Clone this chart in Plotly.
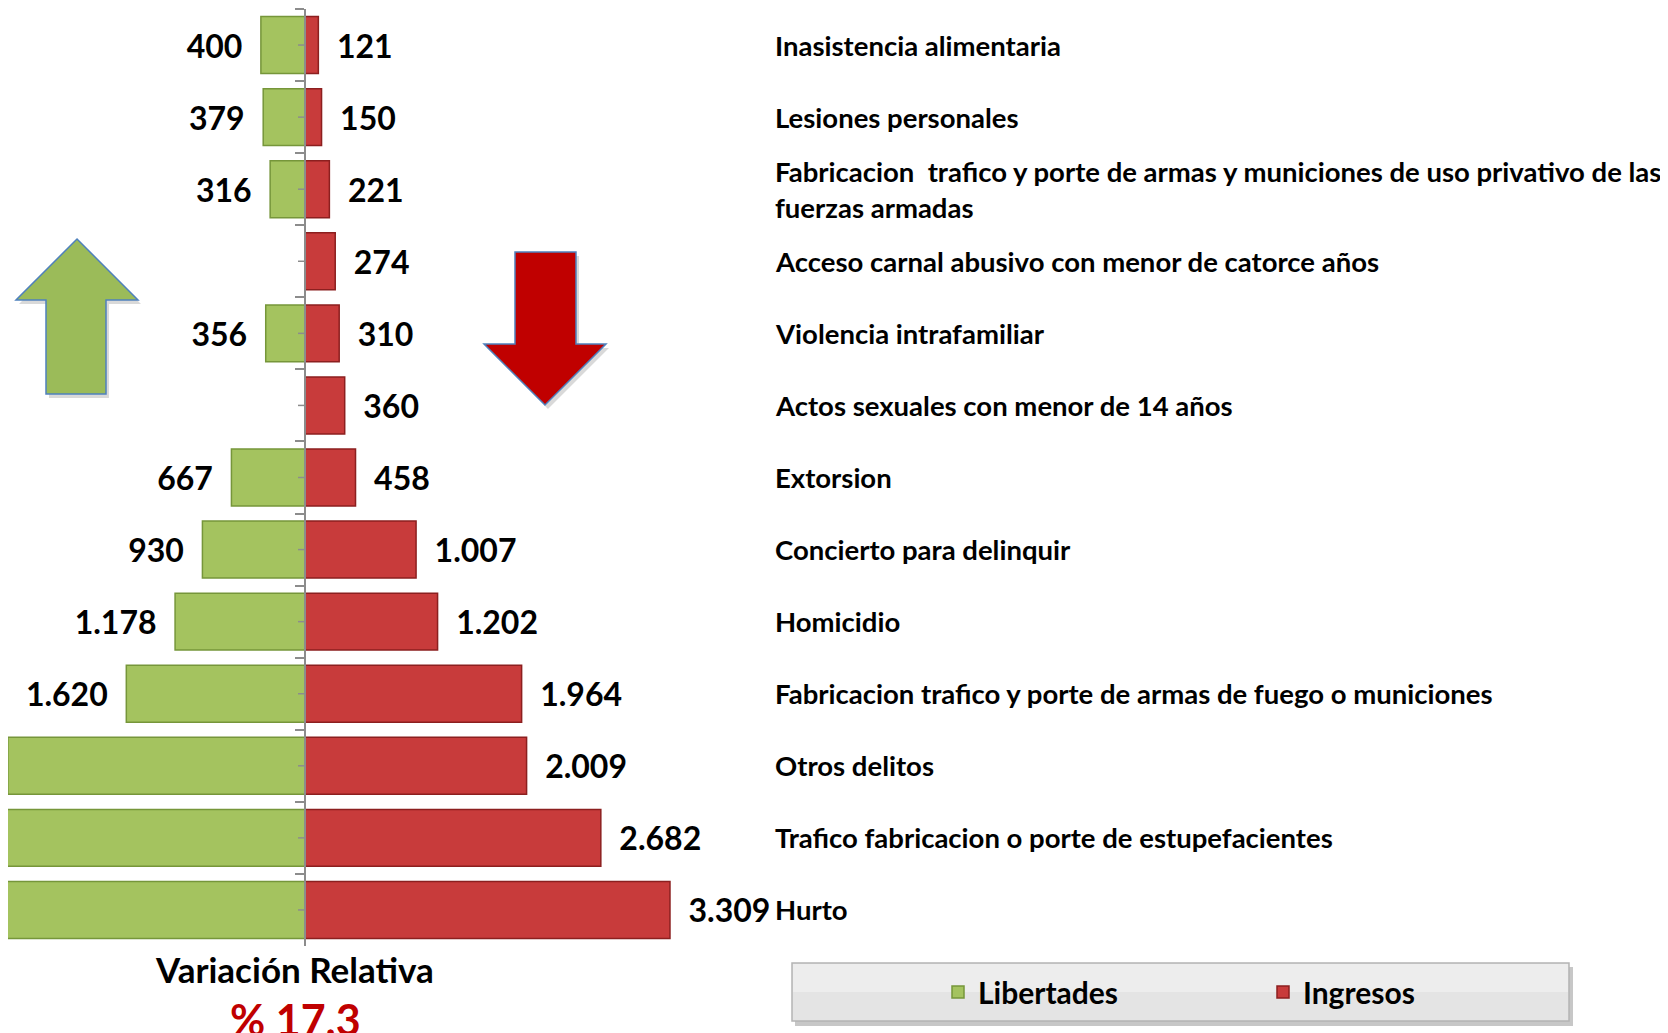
import plotly.graph_objects as go

# page is 1668x1033; the html body has an 8px margin, so the figure is 8px smaller
PAGE_W, PAGE_H = 1668, 1033
OFF = 8
W, H = PAGE_W - OFF, PAGE_H - OFF

categories = [
    "Inasistencia alimentaria",
    "Lesiones personales",
    "Fabricacion  trafico y porte de armas y municiones de uso privativo de las<br>fuerzas armadas",
    "Acceso carnal abusivo con menor de catorce años",
    "Violencia intrafamiliar",
    "Actos sexuales con menor de 14 años",
    "Extorsion",
    "Concierto para delinquir",
    "Homicidio",
    "Fabricacion trafico y porte de armas de fuego o municiones",
    "Otros delitos",
    "Trafico fabricacion o porte de estupefacientes",
    "Hurto",
]
libertades = [400, 379, 316, None, 356, None, 667, 930, 1178, 1620, 2694, 2950, 3250]
ingresos = [121, 150, 221, 274, 310, 360, 458, 1007, 1202, 1964, 2009, 2682, 3309]

variacion_titulo = "Variación Relativa"
variacion_valor = "% 17.3"

GREEN = "#A4C35F"
GREEN_EDGE = "#76963A"
RED = "#C83B3B"
RED_EDGE = "#8C1F1F"
FONT = "Lato"


def fmt(v):
    return f"{v:,}".replace(",", ".")


def px(x):
    # page pixel -> paper fraction
    return (x - OFF) / W


def py(y):
    return 1 - (y - OFF) / H


NB = "\u00a0\u00a0"

fig = go.Figure()
fig.add_trace(go.Bar(
    name="Libertades",
    y=categories,
    x=[-v if v is not None else None for v in libertades],
    orientation="h",
    marker=dict(color=GREEN, line=dict(color=GREEN_EDGE, width=1.5)),
    text=[fmt(v) + NB if v is not None else "" for v in libertades],
    textposition="outside",
    constraintext="none",
    cliponaxis=False,
    outsidetextfont=dict(family=FONT, size=32, color="black", weight="bold"),
    hoverinfo="skip",
))
fig.add_trace(go.Bar(
    name="Ingresos",
    y=categories,
    x=ingresos,
    orientation="h",
    marker=dict(color=RED, line=dict(color=RED_EDGE, width=1.5)),
    text=[NB + fmt(v) for v in ingresos],
    textposition="outside",
    constraintext="none",
    cliponaxis=False,
    outsidetextfont=dict(family=FONT, size=32, color="black", weight="bold"),
    hoverinfo="skip",
))

zero_page = 305
scale = 0.1103  # px per unit
plot_right_page = 770
x_left = -(zero_page - OFF) / scale
x_right = (plot_right_page - zero_page) / scale

shapes = []
for c in categories:
    shapes.append(dict(type="line", xref="x", yref="y", xsizemode="pixel", xanchor=0,
                       x0=-7, x1=0, y0=c, y1=c, line=dict(color="#8C8C8C", width=1.5)))


def path(points):
    return "M " + " L ".join(f"{px(x):.5f},{py(y):.5f}" for x, y in points) + " Z"


green_arrow = [(46, 394), (46, 300), (16, 300), (77, 239), (138, 300), (106, 300), (106, 394)]
red_arrow = [(515, 252), (576, 252), (576, 344), (606, 344), (545, 405), (484, 344), (515, 344)]
for pts, col in ((green_arrow, "#9BBB59"), (red_arrow, "#C00000")):
    shadow = [(x + 3, y + 4) for x, y in pts]
    shapes.append(dict(type="path", xref="paper", yref="paper", path=path(shadow),
                       fillcolor="rgba(0,0,0,0.15)", line=dict(width=0)))
    shapes.append(dict(type="path", xref="paper", yref="paper", path=path(pts),
                       fillcolor=col, line=dict(color="#4F81BD", width=1.5)))

# legend box
shapes.append(dict(type="rect", xref="paper", yref="paper",
                   x0=px(795), x1=px(1573), y0=py(1026), y1=py(967),
                   fillcolor="rgba(0,0,0,0.22)", line=dict(width=0)))
shapes.append(dict(type="rect", xref="paper", yref="paper",
                   x0=px(792), x1=px(1569), y0=py(1021), y1=py(963),
                   fillcolor="#E4E4E4", line=dict(color="#B4B4B4", width=1.5)))
shapes.append(dict(type="rect", xref="paper", yref="paper",
                   x0=px(793), x1=px(1568), y0=py(992), y1=py(964),
                   fillcolor="rgba(255,255,255,0.35)", line=dict(width=0)))

annotations = []
for c in categories:
    annotations.append(dict(x=px(773), xref="paper", y=c, yref="y", text=c,
                            xanchor="left", yanchor="middle", align="left", showarrow=False,
                            font=dict(family=FONT, size=27.5, color="black", weight="bold")))
annotations.append(dict(x=px(294), xref="paper", y=py(969), yref="paper", text=variacion_titulo,
                        xanchor="center", yanchor="middle", showarrow=False,
                        font=dict(family=FONT, size=35, color="black", weight="bold")))
annotations.append(dict(x=px(295), xref="paper", y=py(1019), yref="paper", text=variacion_valor,
                        xanchor="center", yanchor="middle", showarrow=False,
                        font=dict(family=FONT, size=43, color="#C00000", weight="bold")))

fig.update_layout(
    width=W, height=H,
    margin=dict(l=0, r=0, t=0, b=0, autoexpand=False),
    paper_bgcolor="white", plot_bgcolor="white",
    barmode="relative", bargap=0.21,
    xaxis=dict(domain=[0, px(plot_right_page)], range=[x_left, x_right], showgrid=False,
               zeroline=False, showticklabels=False, ticks="", fixedrange=True),
    yaxis=dict(domain=[py(946), py(9)], range=[len(categories) - 0.5, -0.5],
               type="category", anchor="free", position=px(zero_page),
               showline=True, linecolor="#8C8C8C", linewidth=1.5,
               ticks="outside", tickson="boundaries", ticklen=9, tickcolor="#8C8C8C", tickwidth=1.5,
               showticklabels=False, showgrid=False, zeroline=False),
    shapes=shapes,
    annotations=annotations,
    showlegend=True,
    legend=dict(orientation="h", x=px(938), xanchor="left", y=py(992), yanchor="middle",
                bgcolor="rgba(0,0,0,0)", entrywidth=280, entrywidthmode="pixels",
                font=dict(family=FONT, size=30, color="black", weight="bold")),
)

fig.write_html("out.html")
